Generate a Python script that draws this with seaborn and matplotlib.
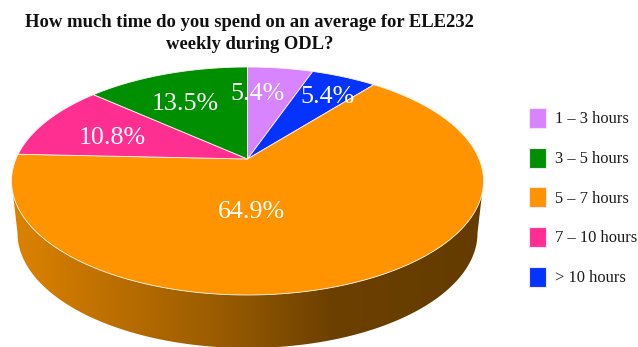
import numpy as np
import matplotlib
matplotlib.use("Agg")
import matplotlib.pyplot as plt
from matplotlib.colors import LinearSegmentedColormap
from matplotlib.patches import Patch, Polygon
import seaborn as sns

title = "How much time do you spend on an average for ELE232\nweekly during ODL?"
categories = ["1 \u2013 3 hours", "3 \u2013 5 hours", "5 \u2013 7 hours", "7 \u2013 10 hours", "> 10 hours"]
values = [5.4, 13.5, 64.9, 10.8, 5.4]
colors = ["#D883FF", "#008F00", "#FF9300", "#FF2F92", "#0433FF"]
# order in which the slices run clockwise from 12 o'clock
slice_order = [0, 4, 2, 3, 1]
# label centres, in picture pixels
label_x = [257, 185, 251, 112, 328]
label_y = [94, 104, 212, 138, 97]

sns.set_theme(style="white")
plt.rcParams["font.family"] = ["Liberation Serif", "DejaVu Serif"]

W, H = 638, 347
fig = plt.figure(figsize=(W / 100, H / 100), dpi=100)
ax = fig.add_axes([0, 0, 1, 1])
ax.set_xlim(0, W)
ax.set_ylim(H, 0)
ax.axis("off")

# top ellipse and the perspective shift of the pie centre
cx, cy, rx, ry = 247.5, 181.0, 236.0, 114.0
k = 22.0 / 114.0
# bottom rim
bx, by, brx, bry = 247.5, 233.0, 230.0, 115.0


def project(theta):
    """Clockwise angle from 12 o'clock on the disc -> picture position."""
    X, Y = np.sin(theta), -np.cos(theta)
    d = 1 - k * Y
    return cx + rx * X * np.sqrt(1 - k ** 2) / d, cy + ry * (Y - k) / d


# side wall with a left-to-right gradient
t = np.linspace(0, np.pi, 200)
side = np.vstack([
    np.column_stack([cx + rx * np.cos(t), cy + ry * np.sin(t)]),
    np.column_stack([bx + brx * np.cos(t[::-1]), by + bry * np.sin(t[::-1])]),
])
cmap = LinearSegmentedColormap.from_list(
    "side", [(0, "#DC8200"), (0.45, "#985A00"), (0.68, "#6C4000"), (1, "#643B00")])
grad = np.linspace(0, 1, 512)[None, :]
im = ax.imshow(grad, cmap=cmap, extent=(13, 483, H, 180), aspect="auto", zorder=1)
clip = Polygon(side, closed=True, transform=ax.transData, fill=False, edgecolor="none")
ax.add_patch(clip)
im.set_clip_path(clip)
ax.set_xlim(0, W)
ax.set_ylim(H, 0)

# top face slices
start = 0.0
total = sum(values)
apex_y = cy - ry * k
for i in slice_order:
    end = start + values[i] / total * 2 * np.pi
    th = np.linspace(start, end, max(int(values[i] * 6), 12))
    ex, ey = project(th)
    pts = np.column_stack([np.r_[cx, ex], np.r_[apex_y, ey]])
    ax.add_patch(Polygon(pts, closed=True, facecolor=colors[i],
                         edgecolor="#FFF4EC", linewidth=0.6, zorder=2))
    start = end

for i, v in enumerate(values):
    ax.text(label_x[i], label_y[i], f"{v:.1f}%", color="white", fontsize=18.7,
            ha="center", va="center", zorder=3)

ax.text(249.5, 33.5, title, ha="center", va="center", fontsize=13.45, fontweight="bold",
        color="#111111", linespacing=1.35)

handles = [Patch(facecolor=c, edgecolor="#F0E6F5", linewidth=0.8) for c in colors]
ax.legend(handles, categories, loc="upper left", bbox_to_anchor=(529 / W, 1 - 108 / H),
          frameon=False, fontsize=11.9, handlelength=1.03, handleheight=1.485,
          labelspacing=1.19, handletextpad=0.55, borderpad=0, borderaxespad=0,
          labelcolor="#1a1a1a")

fig.savefig("out.png", dpi=100)
